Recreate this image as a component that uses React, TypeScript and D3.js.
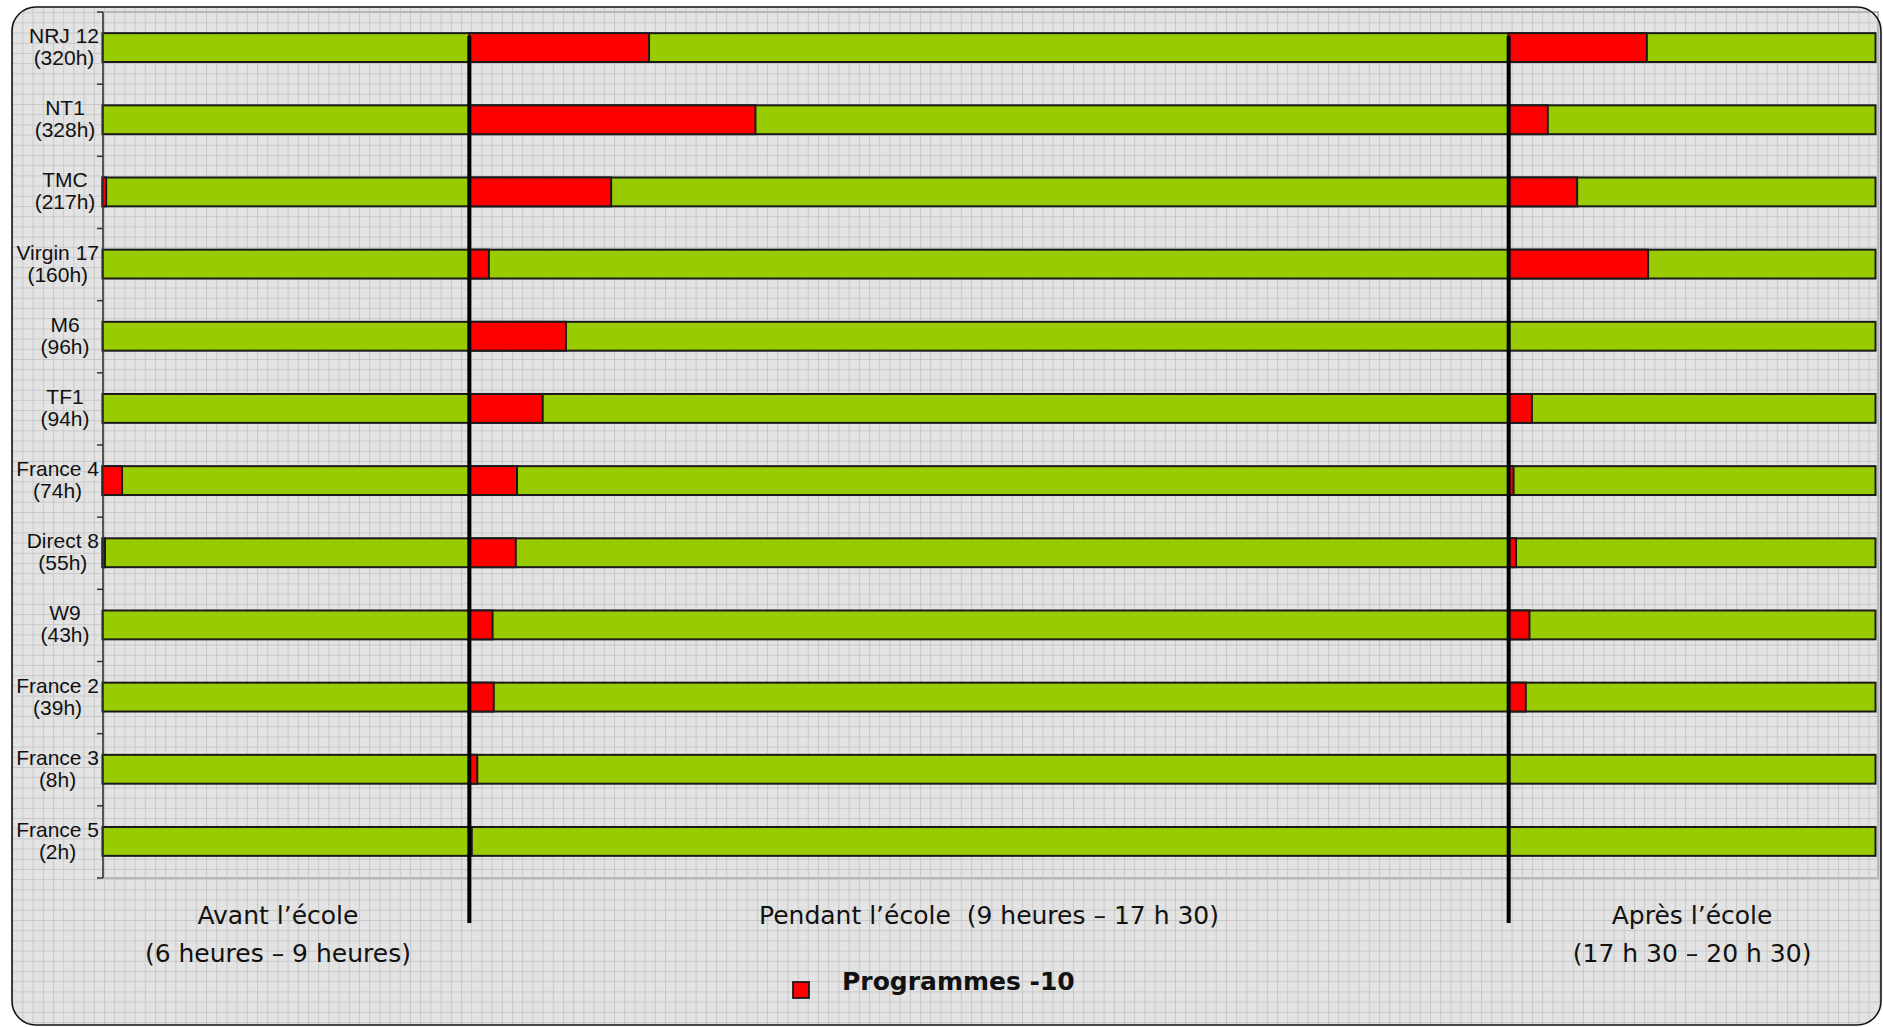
import React from "react";
import * as d3 from "d3";

const channels = ["NRJ 12", "NT1", "TMC", "Virgin 17", "M6", "TF1", "France 4", "Direct 8", "W9", "France 2", "France 3", "France 5"];
const totalHours = [320, 328, 217, 160, 96, 94, 74, 55, 43, 39, 8, 2];
// hours of "Programmes -10" at the start of each period, per channel
const redAvant = [0, 0, 0.03, 0, 0, 0, 0.16, 0.02, 0, 0, 0, 0];
const redPendant = [1.47, 2.34, 1.16, 0.16, 0.79, 0.6, 0.39, 0.38, 0.19, 0.2, 0.065, 0.02];
const redApres = [1.13, 0.32, 0.56, 1.14, 0, 0.19, 0.04, 0.06, 0.17, 0.14, 0, 0];
const periodBounds = [6, 9, 17.5, 20.5];
const periodLabels = [
  ["Avant l’école", "(6 heures – 9 heures)"],
  ["Pendant l’école  (9 heures – 17 h 30)"],
  ["Après l’école", "(17 h 30 – 20 h 30)"],
];
const legendLabel = "Programmes -10";

const W = 1883;
const H = 1027;
const GREEN = "#99cc00";
const RED = "#ff0000";
const STROKE = "#1a1a1a";
const LABEL_FONT = "'Liberation Sans', Arial, sans-serif";
const HAND_FONT = "'Comic Sans MS', 'DejaVu Sans', sans-serif";
const periodDx = [-8, 0, 0];

let ctx: CanvasRenderingContext2D | null = null;
function measure(text: string, font: string): number {
  if (!ctx) {
    const c = document.createElement("canvas");
    ctx = c.getContext("2d");
  }
  if (!ctx) return text.length * 10;
  ctx.font = font;
  return ctx.measureText(text).width;
}

export default function App() {
  const x = d3.scaleLinear().domain([periodBounds[0], periodBounds[3]]).range([102.5, 1875.5]);
  const y = d3.scaleBand<string>().domain(channels).range([12, 878]).padding(0);
  const bh = y.bandwidth() * 0.4;
  const reds = [redAvant, redPendant, redApres];

  const gridStep = 10.2;

  return (
    <div style={{ position: "absolute", left: 0, top: 0 }}>
      <svg width={W} height={H} style={{ display: "block" }}>
        <defs>
          <pattern id="grid" width={gridStep} height={gridStep} patternUnits="userSpaceOnUse" x={2} y={2}>
            <rect width={gridStep} height={gridStep} fill="#e3e3e3" />
            <path d={`M0 0.5 H${gridStep} M0.5 0 V${gridStep}`} stroke="#c8c8c8" strokeWidth={1} fill="none" />
          </pattern>
        </defs>
        <rect x={0} y={0} width={W} height={H} fill="#ffffff" />
        <rect x={12} y={7} width={1869} height={1018} rx={24} ry={24} fill="url(#grid)" />

        {/* plot frame shadow */}
        <rect x={103} y={12} width={1775} height={866} fill="none" stroke="#b8b8b8" strokeWidth={2} />

        {/* bars */}
        {channels.map((ch, i) => {
          const yTop = (y(ch) as number) + (y.bandwidth() - bh) / 2 - 0.5;
          return (
            <g key={ch}>
              {[0, 1, 2].map((p) => {
                const s = periodBounds[p];
                const e = periodBounds[p + 1];
                const r = reds[p][i];
                return (
                  <g key={p}>
                    <rect x={x(s)} y={yTop} width={x(e) - x(s)} height={bh} fill={GREEN} stroke={STROKE} strokeWidth={2} />
                    {r > 0 && (
                      <rect x={x(s)} y={yTop} width={x(s + r) - x(s)} height={bh} fill={RED} stroke={STROKE} strokeWidth={2} />
                    )}
                  </g>
                );
              })}
            </g>
          );
        })}

        {/* y axis */}
        <line x1={103} x2={103} y1={12} y2={878} stroke="#333" strokeWidth={1.5} />
        {channels.concat([""]).map((ch, i) => {
          const yy = 12 + i * y.step();
          return <line key={"t" + i} x1={97} x2={103} y1={yy} y2={yy} stroke="#333" strokeWidth={1.5} />;
        })}
        {channels.map((ch, i) => {
          const cy = (y(ch) as number) + y.bandwidth() / 2;
          const l2 = `(${totalHours[i]}h)`;
          const font = `21px ${LABEL_FONT}`;
          const wmax = Math.max(measure(ch, font), measure(l2, font));
          const cx = Math.min(65, 99 - wmax / 2);
          return (
            <g key={"l" + ch} fontFamily={LABEL_FONT} fontSize={21} fill="#111" textAnchor="middle">
              <text x={cx} y={cy - 5}>{ch}</text>
              <text x={cx} y={cy + 17}>{l2}</text>
            </g>
          );
        })}

        {/* period dividers */}
        {[periodBounds[1], periodBounds[2]].map((b) => (
          <line key={"d" + b} x1={x(b)} x2={x(b)} y1={36} y2={923} stroke="#000" strokeWidth={4} />
        ))}

        {/* period labels */}
        {periodLabels.map((lines, p) => {
          const cx = (x(periodBounds[p]) + x(periodBounds[p + 1])) / 2 + periodDx[p];
          return (
            <g key={"p" + p} fontFamily={HAND_FONT} fontSize={25} fill="#111" textAnchor="middle" style={{ whiteSpace: "pre" }}>
              {lines.map((t, k) => (
                <text key={k} x={cx} y={924 + k * 38} xmlSpace="preserve">{t}</text>
              ))}
            </g>
          );
        })}

        {/* legend */}
        <rect x={793} y={982} width={16} height={16} fill={RED} stroke={STROKE} strokeWidth={1.8} />
        <text x={842} y={990} fontFamily={HAND_FONT} fontSize={25} fontWeight="bold" fill="#111">{legendLabel}</text>

        {/* outer rounded border */}
        <rect x={12} y={7} width={1869} height={1018} rx={24} ry={24} fill="none" stroke="#111" strokeWidth={1.6} />
      </svg>
    </div>
  );
}
